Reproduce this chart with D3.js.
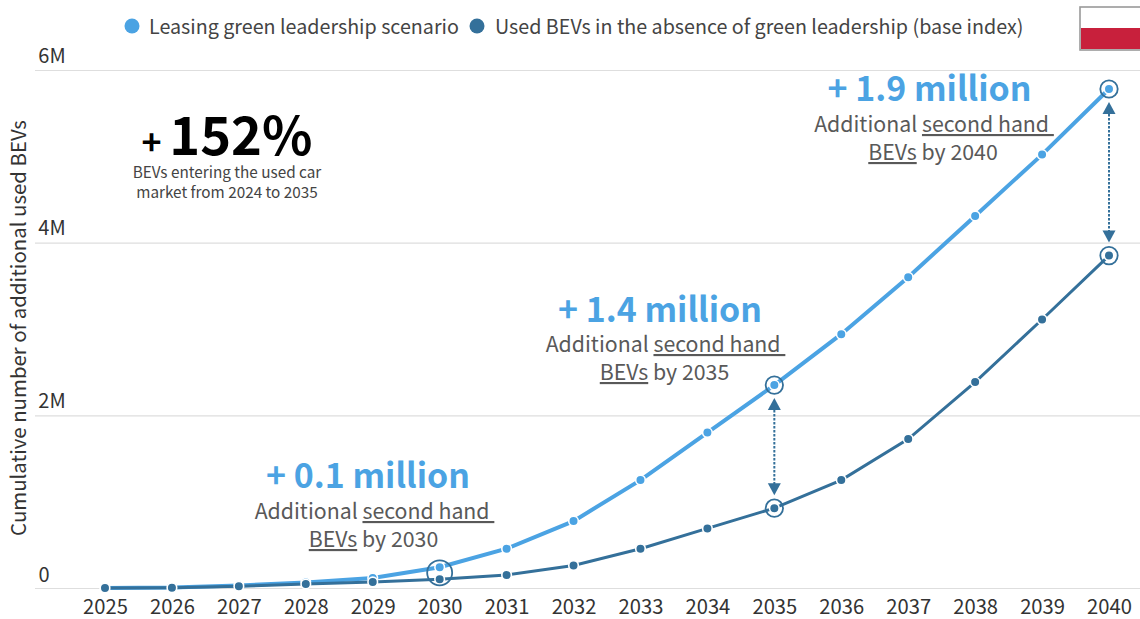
<!DOCTYPE html>
<html><head><meta charset="utf-8">
<script src="https://cdn.jsdelivr.net/npm/d3@7"></script>
<style>
html,body{margin:0;padding:0;background:#fff}
svg{display:block}
text{font-family:"Noto Sans CJK SC","Noto Sans",sans-serif;white-space:pre}
</style></head><body><div id="c"></div>
<script>
const years=[2025,2026,2027,2028,2029,2030,2031,2032,2033,2034,2035,2036,2037,2038,2039,2040];
const leasing=[0,0.005,0.03,0.065,0.115,0.24,0.455,0.775,1.25,1.80,2.35,2.94,3.60,4.31,5.02,5.78];
const base=[0,0.003,0.02,0.045,0.07,0.10,0.15,0.26,0.455,0.69,0.925,1.25,1.725,2.385,3.11,3.85];
const yTicks=[0,2,4,6];
const legendLabels=["Leasing green leadership scenario","Used BEVs in the absence of green leadership (base index)"];
const callouts=[
 {year:2030,head:"+ 0.1 million",y2:"BEVs",rest:" by 2030"},
 {year:2035,head:"+ 1.4 million",y2:"BEVs",rest:" by 2035"},
 {year:2040,head:"+ 1.9 million",y2:"BEVs",rest:" by 2040"}];
const LIGHT="#4ba3e3",DARK="#34709a",GRID="#dedede";

const W=1140,H=619;
const svg=d3.select("#c").append("svg").attr("width",W).attr("height",H);
const x=d3.scaleLinear().domain([2025,2040]).range([105,1109]);
const y=d3.scaleLinear().domain([0,6]).range([588,70]);

// grid + y labels
const yAxis=svg.append("g").attr("transform","translate(35,0)")
 .call(d3.axisLeft(y).tickValues(yTicks).tickSize(-(W-35)).tickFormat(d=>d?d+"M":"0"));
yAxis.select(".domain").remove();
yAxis.selectAll(".tick line").attr("stroke",GRID).attr("stroke-width",1.2);
yAxis.selectAll(".tick text").attr("x",17).attr("dy",-3).attr("text-anchor","middle")
 .attr("font-size",20).attr("fill","#333").style("font-family",'"Noto Sans CJK SC"');
yAxis.selectAll(".tick text").attr("y",-5);
yAxis.selectAll(".tick text").filter(d=>d===0).attr("x",9).attr("y",-4);

// x axis
const xAxis=svg.append("g").attr("transform","translate(0,588)")
 .call(d3.axisBottom(x).tickValues(years).tickSize(0).tickPadding(12).tickFormat(d3.format("d")));
xAxis.select(".domain").remove();
xAxis.selectAll("text").attr("font-size",20.2).attr("fill","#333").style("font-family",'"Noto Sans CJK SC"');

svg.append("text").attr("transform","translate(26,328) rotate(-90)").attr("text-anchor","middle")
 .attr("font-size",20.4).attr("fill","#333").text("Cumulative number of additional used BEVs");

const line=d3.line().x((d,i)=>x(years[i])).y(d=>y(d));
function series(vals,color,w,r){
 svg.append("path").datum(vals).attr("d",line).attr("fill","none").attr("stroke",color).attr("stroke-width",w);
 svg.append("g").selectAll("circle").data(vals).join("circle")
  .attr("cx",(d,i)=>x(years[i])).attr("cy",d=>y(d)).attr("r",r)
  .attr("fill",color).attr("stroke","#fff").attr("stroke-width",1.6);
}
series(leasing,LIGHT,4,4.8);
series(base,DARK,3,4.8);

// callout rings
function ring(cx,cy,r){svg.append("circle").attr("cx",cx).attr("cy",cy).attr("r",r)
 .attr("fill","none").attr("stroke",DARK).attr("stroke-width",1.8);}
const i30=years.indexOf(2030),i35=years.indexOf(2035),i40=years.indexOf(2040);
ring(x(2030),(y(leasing[i30])+y(base[i30]))/2-0.5,12.5);
[[2035,i35],[2040,i40]].forEach(([yr,i])=>{ring(x(yr),y(leasing[i]),8.7);ring(x(yr),y(base[i]),8.7);});

// arrows
function arrow(yr,i){
 const cx=x(yr),top=y(leasing[i])+13,bot=y(base[i])-13;
 svg.append("line").attr("x1",cx).attr("x2",cx).attr("y1",top+8).attr("y2",bot-8)
  .attr("stroke",DARK).attr("stroke-width",2).attr("stroke-dasharray","2.5 1.5");
 svg.append("path").attr("d",`M${cx},${top}l-6.5,12h13z`).attr("fill",DARK);
 svg.append("path").attr("d",`M${cx},${bot}l-6.5,-12h13z`).attr("fill",DARK);
}
arrow(2035,i35);arrow(2040,i40);

// callout text
const anchor={2030:[368,487.5],2035:[660,321.5],2040:[929.5,101]};
const under={2030:[374.5,519,547],2035:[665.5,352,380],2040:[934,132,160]};
callouts.forEach(c=>{
 const [ax,ay]=anchor[c.year],[ux,u1,u2]=under[c.year];
 svg.append("text").attr("x",ax).attr("y",ay).attr("text-anchor","middle")
  .attr("font-size",33.9).attr("font-weight",700).attr("fill",LIGHT).text(c.head);
 const t=svg.append("text").attr("x",ux).attr("y",u1).attr("text-anchor","middle").attr("font-size",21.3).attr("fill","#595959");
 t.append("tspan").text("Additional ");
 t.append("tspan").style("text-decoration","underline").text("second hand ");
 const t2=svg.append("text").attr("x",ux-1).attr("y",u2).attr("text-anchor","middle").attr("font-size",21.3).attr("fill","#595959");
 t2.append("tspan").style("text-decoration","underline").text(c.y2);
 t2.append("tspan").text(c.rest);
});

// +152%
const k=svg.append("text").attr("x",227).attr("y",155).attr("text-anchor","middle").attr("fill","#000").attr("font-weight",700);
k.append("tspan").attr("font-size",34).text("+ ");
k.append("tspan").attr("font-size",52.4).text("152%");
["BEVs entering the used car","market from 2024 to 2035"].forEach((s,i)=>{
 svg.append("text").attr("x",227).attr("y",178+i*20).attr("text-anchor","middle").attr("font-size",15.3).attr("fill","#444").text(s);
});

// legend
const lg=[[132,149],[477,495]];
[LIGHT,DARK].forEach((col,i)=>{
 svg.append("circle").attr("cx",lg[i][0]).attr("cy",26).attr("r",7.5).attr("fill",col);
 svg.append("text").attr("x",lg[i][1]).attr("y",33.5).attr("font-size",19.7).attr("fill","#444").text(legendLabels[i]);
});

// flag
svg.append("rect").attr("x",1080).attr("y",7).attr("width",62).attr("height",43).attr("fill","#fff").attr("stroke","#999").attr("stroke-width",1.6);
svg.append("rect").attr("x",1081).attr("y",28).attr("width",60).attr("height",21).attr("fill","#c8203c");
</script></body></html>
